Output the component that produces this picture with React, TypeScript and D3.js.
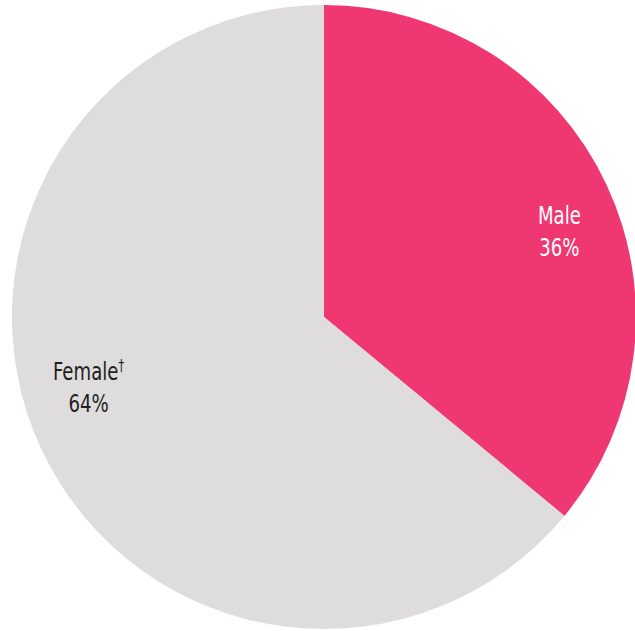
import React from "react";
import * as d3 from "d3";

const categories = ["Male", "Female"];
const values = [36, 64];
const labels = ["Male", "Female"];
const labelMarks = ["", "\u2020"];
const colors = ["#EF3872", "#DEDCDD"];
const textColors = ["#FFFFFF", "#231F20"];

const width = 635;
const height = 631;
const cx = 324;
const cy = 317;
const radius = 312;
const labelRadius = 248;
const labelShift = 0.12; // labels sit a little clockwise of the slice middle

export default function App() {
  const pie = d3
    .pie<number>()
    .value((d) => d)
    .sort(null);
  const arcs = pie(values);
  const arc = d3.arc<d3.PieArcDatum<number>>().innerRadius(0).outerRadius(radius);

  return (
    <svg
      width={width}
      height={height}
      style={{ position: "absolute", left: 0, top: 0 }}
    >
      <g transform={`translate(${cx},${cy})`}>
        {arcs.map((a, i) => (
          <path key={categories[i]} d={arc(a) || ""} fill={colors[i]} />
        ))}
        {arcs.map((a, i) => {
          const mid = (a.startAngle + a.endAngle) / 2 + labelShift;
          const x = Math.sin(mid) * labelRadius;
          const y = -Math.cos(mid) * labelRadius;
          return (
            <text
              key={"t" + categories[i]}
              transform={`translate(${x},${y}) scale(0.84,1)`}
              textAnchor="middle"
              fill={textColors[i]}
              style={{
                fontFamily: "'DejaVu Sans Condensed', sans-serif",
                fontSize: 24,
              }}
            >
              <tspan x={0} y={-15}>
                {labels[i]}
                {labelMarks[i] && (
                  <tspan fontSize={15} dy={-9}>
                    {labelMarks[i]}
                  </tspan>
                )}
              </tspan>
              <tspan x={0} y={17}>
                {values[i]}%
              </tspan>
            </text>
          );
        })}
      </g>
    </svg>
  );
}
